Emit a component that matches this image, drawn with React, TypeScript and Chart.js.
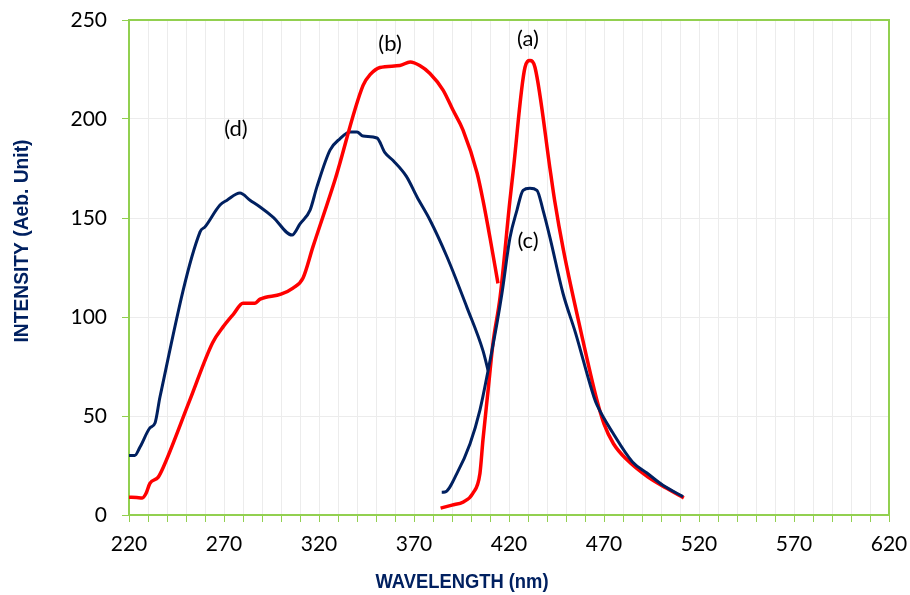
import React, { useEffect, useRef } from 'react';
import { Chart, registerables } from 'chart.js';
Chart.register(...registerables);

// (a) red emission peak
const wavelengthA = [384, 390, 396, 401, 404.7, 406.3, 409, 411.6, 415.3, 420.5, 422.1, 428.4, 431, 433.7, 441.9, 444, 448.6, 458, 466, 470, 475, 482, 493, 503, 512];
const intensityA = [3.5, 5, 6.6, 11, 21, 38, 63, 87, 110, 159, 172.7, 226, 229.5, 226, 172.7, 159, 134, 92, 59, 46, 36, 28, 19.3, 13.5, 8.6];

// (b) red excitation band
const wavelengthB = [220, 224, 227, 229, 231, 235.3, 238, 252, 264, 269.5, 275, 280, 286.3, 289, 300, 306.3, 311.6, 316.8, 328.4, 343.2, 347, 352.1, 362.6, 368, 373, 378.4, 385.3, 390.5, 395.8, 403.2, 406.3, 410, 414.2];
const intensityB = [9, 8.8, 8.6, 11, 16, 19, 24, 58, 87, 95, 101.5, 107, 107, 109, 111.5, 114.6, 119.7, 135.4, 169.2, 217, 222.5, 226, 227, 228.8, 227, 223, 214.6, 204.5, 194.4, 172.7, 159, 140, 117];

// (c) navy emission peak
const wavelengthC = [384.6, 386.3, 392.6, 399.5, 404.7, 409, 413.7, 416.3, 420.5, 424.2, 427.4, 431, 434.7, 437.9, 441.6, 448.4, 455, 464.7, 466.3, 474.7, 485, 492.6, 501, 511.6];
const intensityC = [11.5, 11.6, 21, 36, 53, 73, 97, 112, 140, 154, 164, 165, 164, 154, 140, 112, 92, 59.6, 55.6, 41.4, 26.8, 21.2, 15, 9.3];

// (d) navy excitation band
const wavelengthD = [220, 223, 225.8, 231, 233.7, 236.3, 257.4, 260, 267.9, 271.6, 278.4, 283.7, 289, 295.8, 305.8, 310, 315.3, 318.9, 325.8, 331, 336.3, 340, 343.2, 350.5, 354.7, 359, 366, 371.6, 378.4, 387.4, 397.8, 406.3, 409];
const intensityD = [30, 30, 34.3, 44, 46.5, 59.6, 143, 145.5, 156.6, 159, 162.6, 159, 155.6, 150.5, 141.4, 147, 154, 165.7, 184.3, 190, 193.4, 193.4, 191.4, 190.4, 183, 179, 171, 160.6, 149, 130.3, 105, 83, 73];

const curveLabels = ['(a)', '(b)', '(c)', '(d)'];
const curveLabelX = [430, 357.4, 430, 276.3];
const curveLabelY = [240.5, 238, 138.5, 195];

const xTitle = 'WAVELENGTH (nm)';
const yTitle = 'INTENSITY (Aeb. Unit)';

const RED = '#FF0000';
const NAVY = '#002060';
const GREEN = '#92D050';
const GRID = '#ececec';

const toPoints = (xs: number[], ys: number[]) => xs.map((x, i) => ({ x, y: ys[i] }));

const decor = {
  id: 'decor',
  afterDraw(chart: any) {
    const { ctx, chartArea: a, scales } = chart;
    const xs = scales.x;
    const ys = scales.y;
    ctx.save();
    ctx.strokeStyle = GREEN;
    ctx.lineWidth = 2;
    ctx.beginPath();
    ctx.moveTo(a.left, a.top);
    ctx.lineTo(a.right, a.top);
    ctx.lineTo(a.right, a.bottom);
    ctx.stroke();

    ctx.fillStyle = '#000';
    ctx.font = '22px Lato';
    ctx.textAlign = 'center';
    ctx.textBaseline = 'middle';
    curveLabels.forEach((t, i) => {
      ctx.fillText(t, xs.getPixelForValue(curveLabelX[i]), ys.getPixelForValue(curveLabelY[i]));
    });

    ctx.fillStyle = NAVY;
    ctx.font = 'bold 21px "Liberation Sans"';
    ctx.fillText(xTitle, 462, 582, 173);
    ctx.translate(22, 241);
    ctx.rotate(-Math.PI / 2);
    ctx.fillText(yTitle, 0, 0, 203);
    ctx.restore();
  },
};

export default function App() {
  const ref = useRef<HTMLCanvasElement>(null);
  useEffect(() => {
    if (!ref.current) return;
    const line = (xs: number[], ys: number[], color: string, width: number) => ({
      data: toPoints(xs, ys),
      borderColor: color,
      backgroundColor: color,
      borderWidth: width,
      showLine: true,
      pointRadius: 0,
      cubicInterpolationMode: 'monotone' as const,
      fill: false,
    });
    const chart = new Chart(ref.current, {
      type: 'scatter',
      data: {
        datasets: [
          line(wavelengthC, intensityC, NAVY, 3),
          line(wavelengthB, intensityB, RED, 3.5),
          line(wavelengthA, intensityA, RED, 3.5),
          line(wavelengthD, intensityD, NAVY, 3),
        ],
      },
      options: {
        responsive: false,
        animation: false,
        layout: { padding: { top: 20, right: 21, left: 0, bottom: 0 } },
        plugins: { legend: { display: false }, tooltip: { enabled: false } },
        scales: {
          x: {
            type: 'linear',
            min: 220,
            max: 620,
            afterFit: (s: any) => {
              s.height = 80;
              s.paddingLeft = 0;
              s.paddingRight = 0;
            },
            ticks: {
              stepSize: 10,
              autoSkip: false,
              maxRotation: 0,
              padding: 10,
              color: '#000',
              font: { family: 'Lato', size: 21 },
              callback: (v: any) => {
                const n = Math.round(Number(v));
                return (n - 220) % 50 === 0 ? String(n) : '';
              },
            },
            grid: { color: GRID, tickColor: GREEN, tickLength: 7, lineWidth: 1 },
            border: { color: GREEN, width: 2 },
          },
          y: {
            min: 0,
            max: 250,
            afterFit: (s: any) => {
              s.width = 129;
              s.paddingTop = 0;
              s.paddingBottom = 0;
            },
            ticks: {
              stepSize: 50,
              padding: 15,
              color: '#000',
              font: { family: 'Lato', size: 21 },
            },
            grid: { color: GRID, tickColor: GREEN, tickLength: 7, lineWidth: 1 },
            border: { color: GREEN, width: 2 },
          },
        },
      },
      plugins: [decor],
    });
    return () => chart.destroy();
  }, []);
  return (
    <div style={{ position: 'absolute', left: 0, top: 0, width: 910, height: 595, background: '#fff' }}>
      <canvas ref={ref} width={910} height={595} style={{ display: 'block' }} />
    </div>
  );
}
